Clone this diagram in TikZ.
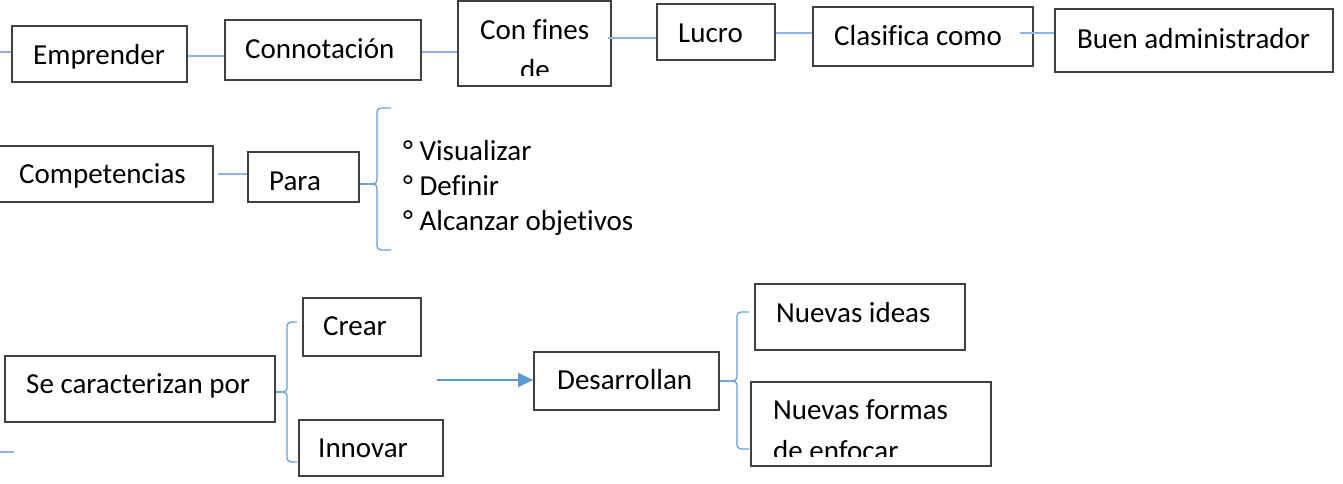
\documentclass[tikz,border=0pt]{standalone}
\usepackage{fontspec}
\setmainfont{Carlito}[Ligatures={NoCommon}]
\usetikzlibrary{arrows.meta}
\definecolor{boxgray}{RGB}{64,64,64}
\definecolor{connblue}{RGB}{141,180,226}
\definecolor{bracblue}{RGB}{100,160,218}
\definecolor{arrblue}{RGB}{91,155,213}
\tikzset{
  box/.style={draw=boxgray, line width=1.6pt, rectangle, inner sep=0pt},
  txt/.style={font=\fontsize{29}{35}\selectfont, inner sep=0pt, anchor=base west, text=black},
  conn/.style={draw=connblue, line width=1.4pt},
  bracepath/.style={draw=bracblue, line width=1.3pt, rounded corners=4pt},
  arrowline/.style={draw=arrblue, line width=1.3pt, -{Triangle[length=15pt,width=14pt]}}
}
\begin{document}
\begin{tikzpicture}[x=1pt,y=-1pt]
\useasboundingbox (0,0) rectangle (1343,483);
% boxes
\node[box, minimum width=175pt, minimum height=56pt] (emp) at (99.5,54) {};
\node[box, minimum width=196pt, minimum height=60pt] (con) at (323,50) {};
\node[box, minimum width=153pt, minimum height=85pt] (fin) at (534.5,43.5) {};
\node[box, minimum width=118pt, minimum height=56pt] (luc) at (716,32) {};
\node[box, minimum width=220pt, minimum height=59pt] (cla) at (923,36.5) {};
\node[box, minimum width=278pt, minimum height=63pt] (bue) at (1194,40.5) {};
\node[box, minimum width=216pt, minimum height=56pt] (com) at (105,174) {};
\node[box, minimum width=111pt, minimum height=50pt] (par) at (303.5,177) {};
\node[box, minimum width=270pt, minimum height=66pt] (sec) at (140,389) {};
\node[box, minimum width=118pt, minimum height=58pt] (cre) at (362,327) {};
\node[box, minimum width=144pt, minimum height=56pt] (inn) at (371,448) {};
\node[box, minimum width=185pt, minimum height=58pt] (des) at (626.5,381) {};
\node[box, minimum width=210pt, minimum height=66pt] (nid) at (860,317) {};
\node[box, minimum width=240pt, minimum height=84pt] (nfo) at (871,424) {};
% texts
\node[txt] (tEmp) at (33,64) {Emprender};
\node[txt] (tCon) at (245,58) {Connotación};
\node[txt] (tFin) at (480,39) {Con fines};
\begin{scope}
\clip (458,0) rectangle (611,75);
\node[txt] (tDe) at (520,79) {de};
\end{scope}
\node[txt] (tLuc) at (678,42) {Lucro};
\node[txt] (tCla) at (834,45) {Clasifica como};
\node[txt] (tBue) at (1077,48) {Buen administrador};
\node[txt] (tCom) at (19,183) {Competencias};
\node[txt] (tPar) at (269,190) {Para};
\node[txt] (tVis) at (403,160) {° Visualizar};
\node[txt] (tDef) at (403,195) {° Definir};
\node[txt] (tAlc) at (403,230) {° Alcanzar objetivos};
\node[txt] (tSec) at (26,393) {Se caracterizan por};
\node[txt] (tCre) at (323,335) {Crear};
\node[txt] (tInn) at (318,457) {Innovar};
\node[txt] (tDes) at (557,389) {Desarrollan};
\node[txt] (tNid) at (776,322) {Nuevas ideas};
\node[txt] (tNfo) at (773,419) {Nuevas formas};
\begin{scope}
\clip (751,382) rectangle (991,456);
\node[txt] (tEnf) at (773,460) {de enfocar};
\end{scope}
% helper coordinates
\coordinate (startA) at (0,52);
\coordinate (y56) at (0,56);
\coordinate (y52) at (0,52);
\coordinate (y38) at (0,38);
\coordinate (y33) at (0,33);
\coordinate (y174) at (0,174);
\coordinate (strayA) at (0,452);
\coordinate (strayB) at (14,452);
\coordinate (arrStart) at (437,380);
\coordinate (tipPar) at (363,184);
\coordinate (tipSec) at (277,392);
\coordinate (tipDes) at (727,381);
% connectors
\draw[conn] (startA) -- (emp.west |- y52);
\draw[conn] (emp.east |- y56) -- (con.west |- y56);
\draw[conn] (con.east |- y52) -- (fin.west |- y52);
\draw[conn] ([xshift=-4pt]fin.east |- y38) -- (luc.west |- y38);
\draw[conn] (luc.east |- y33) -- (cla.west |- y33);
\draw[conn] ([xshift=-14pt]cla.east |- y33) -- (bue.west |- y33);
\draw[conn] ([xshift=4pt]com.east |- y174) -- (par.west |- y174);
\draw[conn] (strayA) -- (strayB);
\draw[arrowline] (arrStart) -- (des.west |- arrStart);
% braces
\draw[bracepath] (par.east |- tipPar) -- (tipPar);
\draw[bracepath] (391,108) -- (377,108) -- (377,184) -- (tipPar);
\draw[bracepath] (tipPar) -- (377,184) -- (377,250) -- (391,250);
\draw[bracepath] (sec.east |- tipSec) -- (tipSec);
\draw[bracepath] (297,322) -- (287,322) -- (287,392) -- (tipSec);
\draw[bracepath] (tipSec) -- (287,392) -- (287,462) -- (297,462);
\draw[bracepath] (des.east |- tipDes) -- (tipDes);
\draw[bracepath] (749,312) -- (737,312) -- (737,381) -- (tipDes);
\draw[bracepath] (tipDes) -- (737,381) -- (737,449) -- (749,449);
\end{tikzpicture}
\end{document}
